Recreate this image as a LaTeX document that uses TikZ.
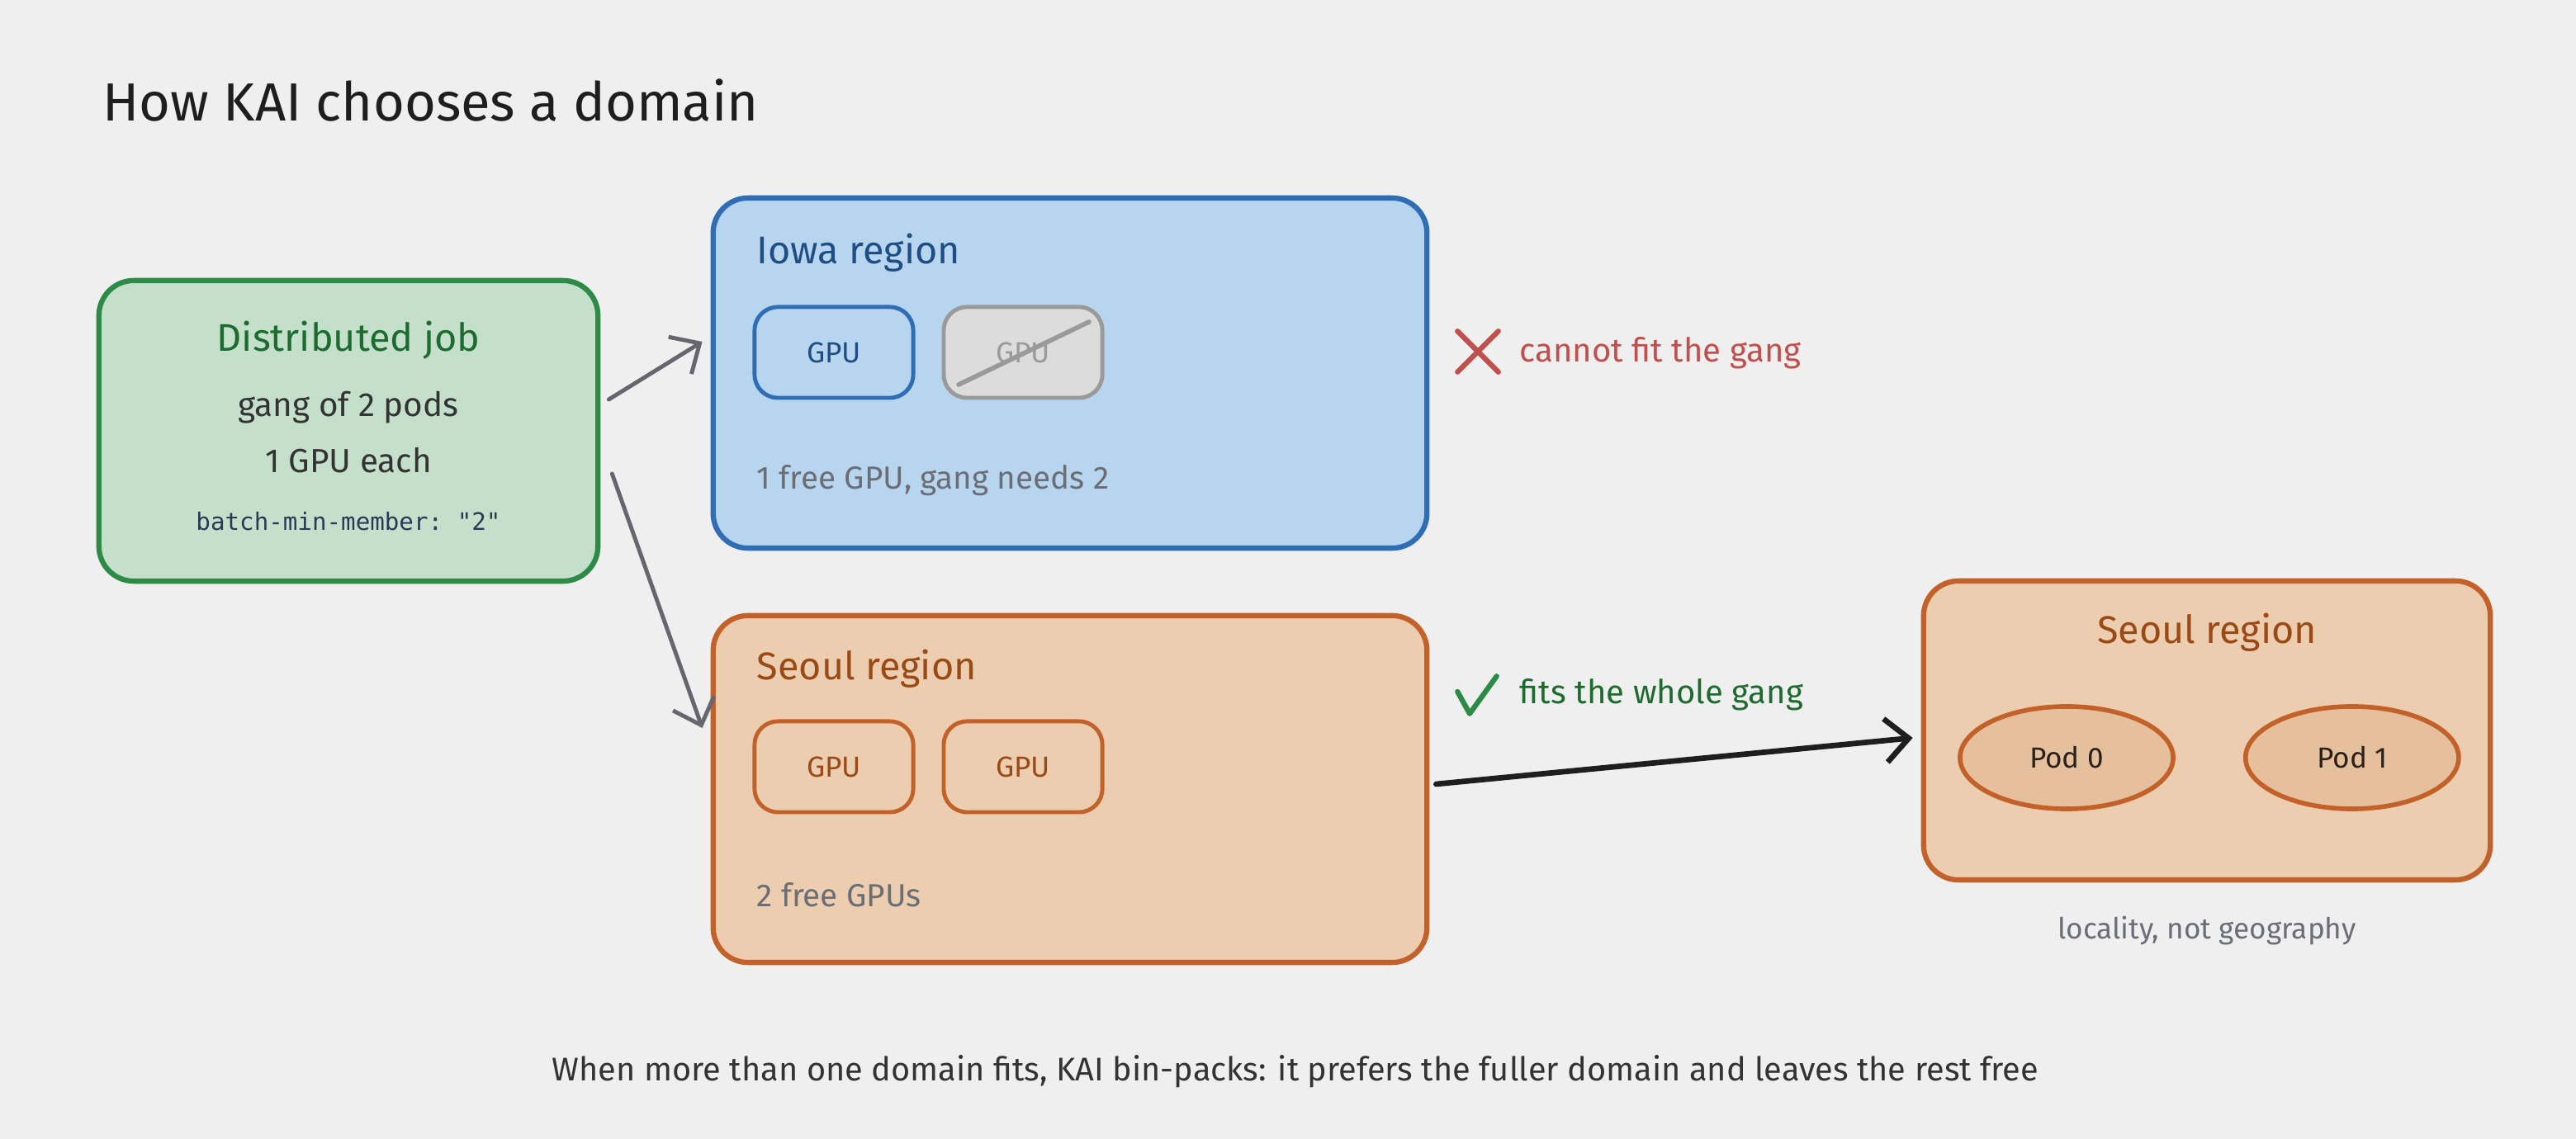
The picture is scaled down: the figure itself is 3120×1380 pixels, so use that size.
\documentclass[tikz,border=0pt]{standalone}
\usepackage{fontspec}
\setmainfont{Fira Sans}
\setmonofont{DejaVu Sans Mono}
\usetikzlibrary{arrows.meta, positioning, shapes.geometric}

\definecolor{paper}{HTML}{EFEFEF}
\definecolor{ink}{HTML}{1E1E1E}
\definecolor{bodyink}{HTML}{333333}
\definecolor{jobfill}{HTML}{C4E0CB}
\definecolor{jobline}{HTML}{2E8A47}
\definecolor{jobtext}{HTML}{1E6B30}
\definecolor{codeink}{HTML}{2A3A55}
\definecolor{iowafill}{HTML}{B8D5F0}
\definecolor{iowaline}{HTML}{2F6DB5}
\definecolor{iowatext}{HTML}{1F4E85}
\definecolor{seoulfill}{HTML}{ECCDB0}
\definecolor{seoulline}{HTML}{C2622A}
\definecolor{seoultext}{HTML}{9A4A15}
\definecolor{podfill}{HTML}{E6BF9C}
\definecolor{podink}{HTML}{2B2118}
\definecolor{offfill}{HTML}{DCDCDC}
\definecolor{offline}{HTML}{9A9A9A}
\definecolor{noteink}{HTML}{6B6E75}
\definecolor{nogood}{HTML}{C0504D}
\definecolor{okmark}{HTML}{2E8B47}
\definecolor{oktext}{HTML}{1F6B2F}
\definecolor{arrowgray}{HTML}{66666E}

\tikzset{
  region/.style = {draw, rounded corners=12pt, line width=1.8pt, inner sep=0pt},
  jobbox/.style = {region, draw=jobline, fill=jobfill,
    minimum width=6.04cm, minimum height=3.64cm},
  iowabox/.style = {region, draw=iowaline, fill=iowafill,
    minimum width=8.64cm, minimum height=4.24cm},
  seoulbox/.style = {region, draw=seoulline, fill=seoulfill,
    minimum width=8.64cm, minimum height=4.2cm},
  gpu/.style = {draw, rounded corners=8pt, line width=1.4pt, inner sep=0pt,
    minimum width=1.92cm, minimum height=1.1cm,
    font=\fontsize{10}{12}\selectfont},
  pod/.style = {ellipse, draw=seoulline, fill=podfill, line width=1.6pt,
    inner sep=0pt, minimum width=2.58cm, minimum height=1.24cm,
    text=podink, font=\fontsize{10}{12}\selectfont},
  leftset/.style = {anchor=west, inner sep=0pt},
  heading/.style = {font=\fontsize{13.3}{16}\selectfont},
  bodytext/.style = {font=\fontsize{11.5}{14}\selectfont},
  notetext/.style = {text=noteink, font=\fontsize{11}{13}\selectfont},
  flow/.style = {-{Straight Barb[length=8pt,width=15pt]}, line width=1.4pt,
    draw=arrowgray, line cap=round}
}

\begin{document}
\begin{tikzpicture}[x=0.01cm, y=-0.01cm]
\fill[paper] (0,0) rectangle (3120,1380);

\node[leftset, text=ink, font=\fontsize{18.5}{22}\selectfont] (title)
  at (124,122) {How KAI chooses a domain};

% the job
\node[jobbox] (job) at (422,522) {};
\node[heading, text=jobtext] (jobname) at (422,412) {Distributed job};
\node[bodytext, text=bodyink] (gang) at (422,494) {gang of 2 pods};
\node[bodytext, text=bodyink] (each) at (422,558) {1 GPU each};
\node[text=codeink, font=\ttfamily\fontsize{8.3}{10}\selectfont] (minmember)
  at (422,632) {batch-min-member: "2"};

% Iowa
\node[iowabox] (iowa) at (1296,452) {};
\node[heading, text=iowatext, leftset] (iowaname) at (916,306) {Iowa region};
\node[gpu, draw=iowaline, text=iowatext] (gpuA) at (1010,427) {GPU};
\node[gpu, draw=offline, fill=offfill, text=offline, right=0.32cm of gpuA] (gpuB) {GPU};
\draw[offline, line width=1.6pt, line cap=round]
  ([shift={(-78,39)}]gpuB.center) -- ([shift={(80,-37)}]gpuB.center);
\node[notetext, leftset] (iowanote) at (916,582) {1 free GPU, gang needs 2};

\node[inner sep=0pt, minimum size=0.48cm] (cross) at (1790,426) {};
\draw[nogood, line width=1.8pt, line cap=round]
  (cross.north west) -- (cross.south east) (cross.south west) -- (cross.north east);
\node[leftset, text=nogood, font=\fontsize{11.4}{14}\selectfont] (nofit)
  at (1840,428) {cannot fit the gang};

% Seoul
\node[seoulbox] (seoul) at (1296,956) {};
\node[heading, text=seoultext, leftset] (seoulname) at (916,810) {Seoul region};
\node[gpu, draw=seoulline, text=seoultext] (gpuC) at (1010,929) {GPU};
\node[gpu, draw=seoulline, text=seoultext, right=0.32cm of gpuC] (gpuD) {GPU};
\node[notetext, leftset] (seoulnote) at (916,1084) {2 free GPUs};

\node[inner sep=0pt, minimum width=0.48cm, minimum height=0.44cm] (check) at (1788,842) {};
\draw[okmark, line width=1.8pt, line cap=round, line join=round]
  ([shift={(2,-4)}]check.west) -- ([shift={(-8,0)}]check.south) -- (check.north east);
\node[leftset, text=oktext, font=\fontsize{11.4}{14}\selectfont] (fits)
  at (1840,842) {fits the whole gang};

% chosen domain
\node[region, draw=seoulline, fill=seoulfill, minimum width=6.86cm,
  minimum height=3.62cm] (chosen) at (2673,885) {};
\node[heading, text=seoultext] (chosenname) at (2673,766) {Seoul region};
\node[pod] (pod0) at (2503,918) {Pod 0};
\node[pod, right=0.82cm of pod0] (pod1) {Pod 1};
\node[notetext, font=\fontsize{10}{12}\selectfont] (locality) at (2673,1128)
  {locality, not geography};

\draw[flow] ([shift={(10,-38)}]job.east) -- ([shift={(-10,-38)}]iowa.west);
\draw[flow] ([shift={(14,52)}]job.east) -- ([shift={(-10,-74)}]seoul.west);
\draw[flow, draw=ink, line width=1.9pt] ([shift={(8,-6)}]seoul.east)
  -- ([shift={(-10,9)}]chosen.west);

\node[text=bodyink, font=\fontsize{11.3}{14}\selectfont] (footer) at (1569,1298)
  {When more than one domain fits, KAI bin-packs: it prefers the fuller domain and leaves the rest free};
\end{tikzpicture}
\end{document}
